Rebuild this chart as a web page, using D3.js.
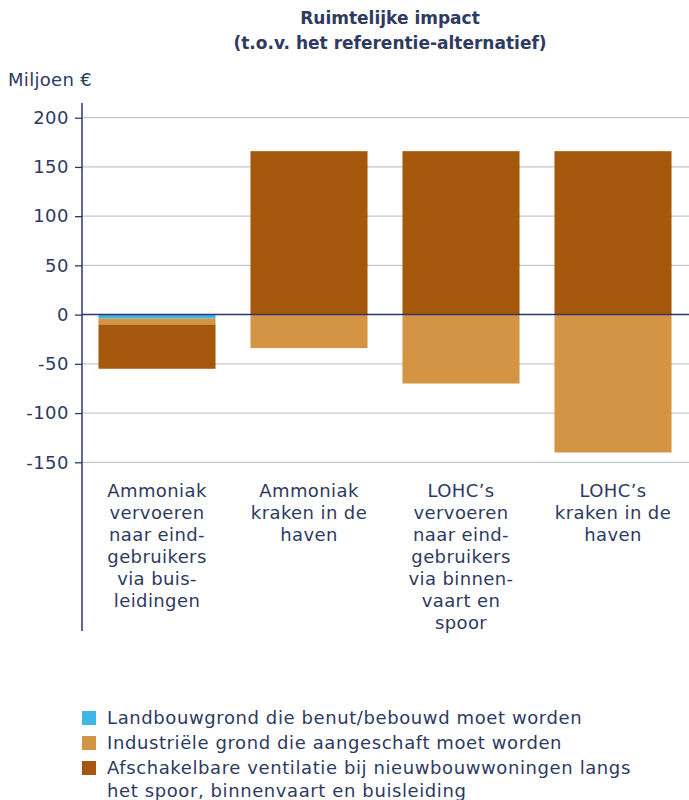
<!DOCTYPE html>
<html>
<head>
<meta charset="utf-8">
<script src="https://cdn.jsdelivr.net/npm/d3@7"></script>
<style>
  body { margin: 0; background: #fff; }
  text { font-family: "DejaVu Sans", sans-serif; fill: #2e3a5f; }
</style>
</head>
<body>
<svg id="chart" width="689" height="800"></svg>
<script>
// categories and series (miljoen euro)
const categories = [
    ['Ammoniak', 'vervoeren', 'naar eind-', 'gebruikers', 'via buis-', 'leidingen'],
    ['Ammoniak', 'kraken in de', 'haven'],
    ['LOHC\u2019s', 'vervoeren', 'naar eind-', 'gebruikers', 'via binnen-', 'vaart en', 'spoor'],
    ['LOHC\u2019s', 'kraken in de', 'haven']
];
const landbouw = [-4, 0, 0, 0];
const industrie = [-6, -34, -70, -140];
const ventilatie = [-45, 166, 166, 166];
const yTicks = [200, 150, 100, 50, 0, -50, -100, -150];

const seriesNames = [
    ['Landbouwgrond die benut/bebouwd moet worden'],
    ['Industri\u00eble grond die aangeschaft moet worden'],
    ['Afschakelbare ventilatie bij nieuwbouwwoningen langs', 'het spoor, binnenvaart en buisleiding']
];
const colors = ['#3fb6e6', '#d39544', '#a5570c'];

const svg = d3.select('#chart');
const x = d3.scaleBand()
    .domain(d3.range(categories.length))
    .range([81, 689])
    .paddingInner(0.23)
    .paddingOuter(0.115);
const y = d3.scaleLinear().domain([-150, 200]).range([462.3, 117.7]);

// gridlines
svg.append('g').selectAll('line')
    .data(yTicks.filter(d => d !== 0))
    .enter().append('line')
    .attr('x1', 82).attr('x2', 689)
    .attr('y1', d => y(d)).attr('y2', d => y(d))
    .attr('stroke', '#c3c8cf').attr('stroke-width', 1.2);

// stacked bars: each series stacks away from zero on its own side
const series = [landbouw, industrie, ventilatie];
const bars = svg.append('g');
categories.forEach((c, i) => {
    let pos = 0, neg = 0;
    series.forEach((s, k) => {
        const v = s[i];
        if (!v) return;
        let y0, y1;
        if (v > 0) { y0 = pos; y1 = pos + v; pos = y1; }
        else { y0 = neg; y1 = neg + v; neg = y1; }
        bars.append('rect')
            .attr('x', x(i))
            .attr('width', x.bandwidth())
            .attr('y', y(Math.max(y0, y1)))
            .attr('height', Math.abs(y(y0) - y(y1)))
            .attr('fill', colors[k]);
    });
});

// zero line
svg.append('line')
    .attr('x1', 82).attr('x2', 689)
    .attr('y1', y(0)).attr('y2', y(0))
    .attr('stroke', '#2b3868').attr('stroke-width', 1.5);

// y axis
const yAxis = svg.append('g')
    .attr('transform', 'translate(82,0)')
    .call(d3.axisLeft(y).tickValues(yTicks).tickFormat(d => String(d))
        .tickSize(7).tickPadding(6).tickSizeOuter(0));
yAxis.select('.domain').remove();
yAxis.append('line')
    .attr('x1', 0).attr('x2', 0).attr('y1', 103).attr('y2', 631)
    .attr('stroke', '#2b3868').attr('stroke-width', 1.5);
yAxis.selectAll('.tick line').attr('stroke', '#2b3868').attr('stroke-width', 1.3);
yAxis.selectAll('.tick text')
    .style('font-family', '"DejaVu Sans", sans-serif')
    .style('font-size', '18px')
    .style('letter-spacing', '0.5px')
    .attr('fill', '#2e3a5f');

// category labels
categories.forEach((lines, i) => {
    const t = svg.append('text')
        .attr('text-anchor', 'middle')
        .attr('font-size', 18)
        .style('letter-spacing', '0.4px');
    lines.forEach((ln, j) => {
        t.append('tspan')
            .attr('x', x(i) + x.bandwidth() / 2)
            .attr('y', 497 + j * 22)
            .text(ln);
    });
});

// titles
svg.append('text').attr('x', 390).attr('y', 24).attr('text-anchor', 'middle')
    .attr('font-size', 17).attr('font-weight', 'bold').text('Ruimtelijke impact');
svg.append('text').attr('x', 390).attr('y', 49).attr('text-anchor', 'middle')
    .attr('font-size', 17).attr('font-weight', 'bold').text('(t.o.v. het referentie-alternatief)');
svg.append('text').attr('x', 8).attr('y', 86).attr('font-size', 18)
    .style('letter-spacing', '0.3px').text('Miljoen \u20ac');

// legend
const legend = svg.append('g');
let ly = 718;
seriesNames.forEach((name, k) => {
    legend.append('rect')
        .attr('x', 82).attr('y', ly - 7).attr('width', 14).attr('height', 14)
        .attr('fill', colors[k]);
    const t = legend.append('text').attr('font-size', 18).style('letter-spacing', '0.6px');
    name.forEach((ln, j) => {
        t.append('tspan').attr('x', 107).attr('y', ly + 6 + j * 23).text(ln);
    });
    ly += 25;
});
</script>
</body>
</html>
